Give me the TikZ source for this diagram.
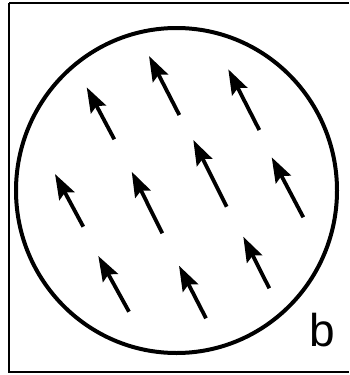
\documentclass[tikz,border=0pt]{standalone}
\usepackage{fontspec}
\setsansfont{Liberation Sans}
\usetikzlibrary{arrows.meta}

\tikzset{
  spin/.style={line width=3.8pt,-{Stealth[length=25pt,width=17pt,inset=4pt]}},
  grainline/.style={line width=4pt},
  boxline/.style={line width=2.2pt}
}

\begin{document}
\begin{tikzpicture}[x=1pt,y=-1pt]
  \useasboundingbox (0,0) rectangle (350,375);
  \draw[boxline] (9,3) -- (9,372) -- (349,372);
  \draw[boxline] (9,3) -- (349,3);
  \draw[grainline] (176.5,190.5) ellipse [x radius=160.5,y radius=162.5];
  % magnetic moments: tail / tip
  \foreach \tx/\ty/\hx/\hy in {
      114.3/139.3/86.7/87.3,  179.3/115/149/56,      259.3/130/228.3/69.3,
      83.3/226.7/55/174,      162.3/233.3/131.7/171.7, 226.7/206.7/193.3/140,
      303.3/217.3/271.7/157.3, 129/311.7/98.3/256,   206/318.3/179/265.7,
      269.3/288.3/243.3/236.7}
    \draw[spin] (\tx,\ty) -- (\hx,\hy);
  \node[font=\fontsize{46}{46}\sffamily,inner sep=0pt,anchor=base] (label) at (322,346) {b};
\end{tikzpicture}
\end{document}
